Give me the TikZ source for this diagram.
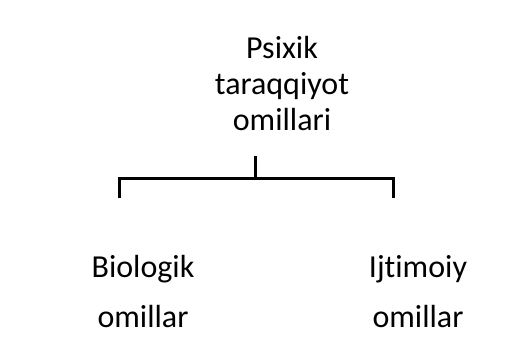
\documentclass[tikz,border=0pt]{standalone}
\usepackage{fontspec}
\setmainfont{Carlito}[Ligatures=NoCommon]
\usetikzlibrary{positioning}

\begin{document}
\begin{tikzpicture}
    [x=1pt,y=-1pt,
     factor/.style={font=\fontsize{32}{36}\selectfont, align=center, inner sep=0pt},
     group/.style={factor, font=\fontsize{32}{50}\selectfont},
     link/.style={line width=3pt}]
    \useasboundingbox[fill=white] (0,0) rectangle (529,357);
    \node[factor, anchor=base] (psixik) at (282,130) {Psixik\\taraqqiyot\\omillari};
    \node[group, anchor=base] (bio) at (143,327) {Biologik\\omillar};
    \node[group, anchor=base] (ijt) at (418,327) {Ijtimoiy\\omillar};

    \coordinate (stem) at (255,156);
    \coordinate (fork) at (255,178);
    \coordinate (left) at (119,198);
    \coordinate (right) at (393,198);
    \draw[link] (stem) -- (fork);
    \draw[link] (left) |- (fork) -| (right);
\end{tikzpicture}
\end{document}
